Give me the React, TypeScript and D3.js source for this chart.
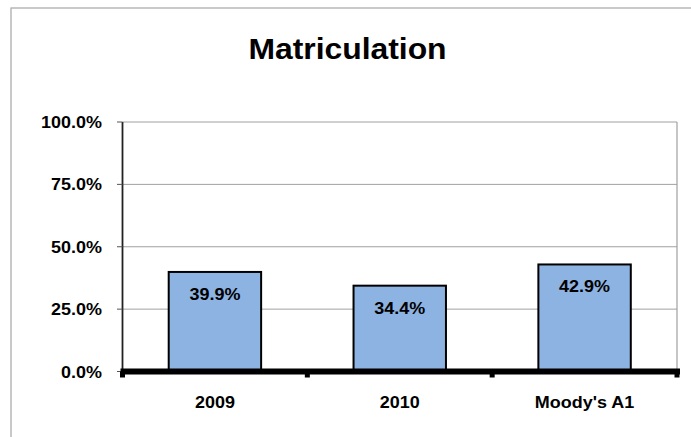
import * as React from 'react'
import {scaleBand, scaleLinear, format as d3Format} from 'd3'

const title = 'Matriculation'
const categories = ['2009', '2010', "Moody's A1"]
const values = [0.399, 0.344, 0.429]
const yTicks = [0, 0.25, 0.5, 0.75, 1]

const W = 691
const H = 437
const FONT = 'Arial, "Liberation Sans", sans-serif'

// plot box
const left = 122.5
const right = 677
const top = 122
const bottom = 371.5

// reference text renders a little wider than Arial, so stretch it
function Label({x, y, size, anchor = 'middle', sx = 1.09, children}: any) {
  return (
    <text transform={`translate(${x},${y}) scale(${sx},1)`} textAnchor={anchor}
      fontSize={size} fontWeight="bold">{children}</text>
  )
}

export default function App() {
  const x = scaleBand().domain(categories).range([left, right]).paddingInner(0.5).paddingOuter(0.25)
  const y = scaleLinear().domain([0, 1]).range([bottom, top])
  const pct = d3Format('.1%')
  const step = x.step()
  const bounds = [0, 1, 2, 3].map(i => left + i * step)

  return (
    <svg width={W} height={H} style={{position: 'absolute', left: 0, top: 0, background: '#fff'}}
      fontFamily={FONT}>
      {/* outer frame */}
      <rect x={11} y={8} width={W} height={H} fill="none" stroke="#a6a6a6" strokeWidth={1.2} />

      <Label x={347.5} y={59} size={29.5} sx={1.08}>{title}</Label>

      {/* grid */}
      {yTicks.map(t => (
        <line key={'g' + t} x1={left} x2={right} y1={y(t)} y2={y(t)} stroke="#a0a0a0" strokeWidth={1} />
      ))}
      <line x1={right} x2={right} y1={top} y2={bottom} stroke="#a0a0a0" strokeWidth={1.2} />

      {/* y axis */}
      <line x1={left} x2={left} y1={top} y2={bottom} stroke="#222" strokeWidth={1.8} />
      {yTicks.map(t => (
        <g key={'t' + t}>
          <line x1={117} x2={left} y1={y(t)} y2={y(t)} stroke="#555" strokeWidth={1} />
          <Label x={102} y={y(t) + 6} size={16.5} anchor="end">{pct(t)}</Label>
        </g>
      ))}

      {/* bars */}
      {categories.map((c, i) => (
        <g key={c}>
          <rect x={x(c)} y={y(values[i])} width={x.bandwidth()} height={bottom - y(values[i])}
            fill="#8DB3E2" stroke="#000" strokeWidth={2} />
          <Label x={x(c)! + x.bandwidth() / 2} y={y(values[i]) + 28} size={16.5}>{pct(values[i])}</Label>
          <Label x={x(c)! + x.bandwidth() / 2} y={408} size={16.5}>{c}</Label>
        </g>
      ))}

      {/* x axis */}
      <line x1={left - 2} x2={right + 3} y1={bottom} y2={bottom} stroke="#000" strokeWidth={6} />
      {bounds.map(b => (
        <line key={'b' + b} x1={b} x2={b} y1={bottom} y2={bottom + 6} stroke="#000" strokeWidth={5} />
      ))}
    </svg>
  )
}
